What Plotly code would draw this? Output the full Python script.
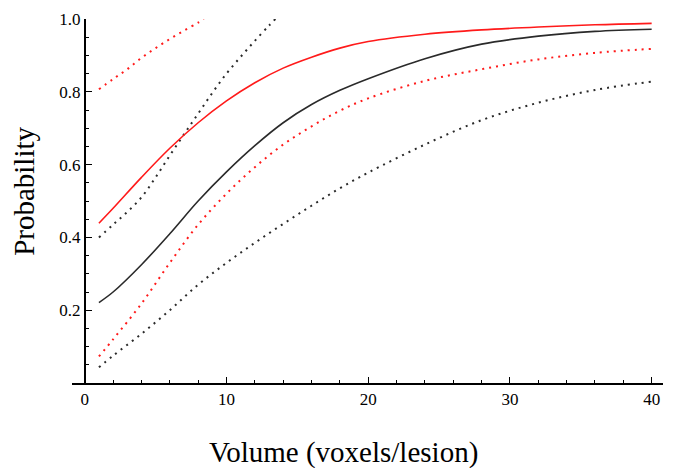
import plotly.graph_objects as go

# ---- data ----
x_grid = [1, 2, 4, 6, 8, 10, 12, 14, 16, 18, 20, 24, 28, 32, 36, 40]
red_fit = [0.439, 0.48, 0.565, 0.645, 0.715, 0.775, 0.825, 0.865, 0.895, 0.92, 0.938, 0.958, 0.970, 0.978, 0.984, 0.988]
black_fit = [0.221, 0.25, 0.325, 0.41, 0.50, 0.58, 0.652, 0.715, 0.765, 0.804, 0.836, 0.891, 0.931, 0.953, 0.966, 0.972]
red_lo = [0.073, 0.12, 0.218, 0.33, 0.435, 0.52, 0.593, 0.655, 0.705, 0.748, 0.782, 0.83, 0.862, 0.889, 0.907, 0.918]
black_lo = [0.043, 0.075, 0.135, 0.20, 0.27, 0.33, 0.385, 0.437, 0.487, 0.535, 0.578, 0.655, 0.722, 0.77, 0.805, 0.828]

x_red_hi = [1, 2, 3, 4, 5, 6, 7, 8, 8.4]
red_hi = [0.807, 0.835, 0.862, 0.893, 0.92, 0.945, 0.968, 0.99, 1.0]
x_black_hi = [1, 2, 3, 4, 5, 6, 7, 8, 9, 10, 11, 12, 13, 13.45]
black_hi = [0.40, 0.435, 0.47, 0.51, 0.565, 0.625, 0.683, 0.74, 0.797, 0.85, 0.896, 0.94, 0.982, 1.0]

x_ticks = [0, 10, 20, 30, 40]
x_minor = [2, 4, 6, 8, 12, 14, 16, 18, 22, 24, 26, 28, 32, 34, 36, 38]
y_ticks = [0.2, 0.4, 0.6, 0.8, 1.0]
y_ticktext = ["0.2", "0.4", "0.6", "0.8", "1.0"]
y_minor = [0.05, 0.1, 0.15, 0.25, 0.3, 0.35, 0.45, 0.5, 0.55, 0.65, 0.7, 0.75, 0.85, 0.9, 0.95]

x_title = "Volume (voxels/lesion)"
y_title = "Probability"

RED = "#ff1a1a"
BLACK = "#2a2a2a"
FONT = "Liberation Serif"
DOT = "2px,5px"

fig = go.Figure()
fig.add_trace(go.Scatter(x=x_red_hi, y=red_hi, mode="lines", line=dict(color=RED, width=2, dash=DOT, shape="spline")))
fig.add_trace(go.Scatter(x=x_black_hi, y=black_hi, mode="lines", line=dict(color=BLACK, width=2, dash=DOT, shape="spline")))
fig.add_trace(go.Scatter(x=x_grid, y=red_lo, mode="lines", line=dict(color=RED, width=2, dash=DOT, shape="spline")))
fig.add_trace(go.Scatter(x=x_grid, y=black_lo, mode="lines", line=dict(color=BLACK, width=2, dash=DOT, shape="spline")))
fig.add_trace(go.Scatter(x=x_grid, y=black_fit, mode="lines", line=dict(color=BLACK, width=1.6, shape="spline")))
fig.add_trace(go.Scatter(x=x_grid, y=red_fit, mode="lines", line=dict(color=RED, width=1.6, shape="spline")))

# page body has an 8px margin; figure sized so plot area lands at x 72..663, y 19..383
xmin, xmax = -0.9, 40.8
fig.update_layout(
    width=666, height=460,
    margin=dict(l=64, r=11, t=11, b=85),
    paper_bgcolor="white", plot_bgcolor="white",
    showlegend=False,
    font=dict(family=FONT, color="black"),
    xaxis=dict(
        range=[xmin, xmax], showgrid=False, zeroline=False, automargin=False,
        showline=True, linecolor="black", linewidth=1.5,
        tickmode="array", tickvals=x_ticks, ticks="inside", ticklen=6, tickwidth=1.3, tickcolor="black",
        tickfont=dict(family=FONT, size=17, color="black"),
        minor=dict(tickmode="array", tickvals=x_minor, ticks="inside", ticklen=3.5, tickwidth=1.2, tickcolor="black"),
    ),
    yaxis=dict(
        range=[0, 1.0], showgrid=False, zeroline=False, automargin=False,
        anchor="free", position=(0 - xmin) / (xmax - xmin), side="left",
        showline=True, linecolor="black", linewidth=1.5,
        tickmode="array", tickvals=y_ticks, ticktext=y_ticktext,
        ticks="inside", ticklen=6, tickwidth=1.3, tickcolor="black",
        tickfont=dict(family=FONT, size=17, color="black"),
        minor=dict(tickmode="array", tickvals=y_minor, ticks="inside", ticklen=3.5, tickwidth=1.2, tickcolor="black"),
    ),
    annotations=[
        dict(text=x_title, xref="paper", yref="paper", x=(343 - 72) / 591, y=(383.3 - 453) / 364.3,
             xanchor="center", yanchor="middle", showarrow=False, font=dict(family=FONT, size=29, color="black")),
        dict(text=y_title, xref="paper", yref="paper", x=(24 - 72) / 591, y=(383.3 - 192) / 364.3,
             xanchor="center", yanchor="middle", textangle=-90, showarrow=False, font=dict(family=FONT, size=29, color="black")),
    ],
)

fig.write_html("out.html")
